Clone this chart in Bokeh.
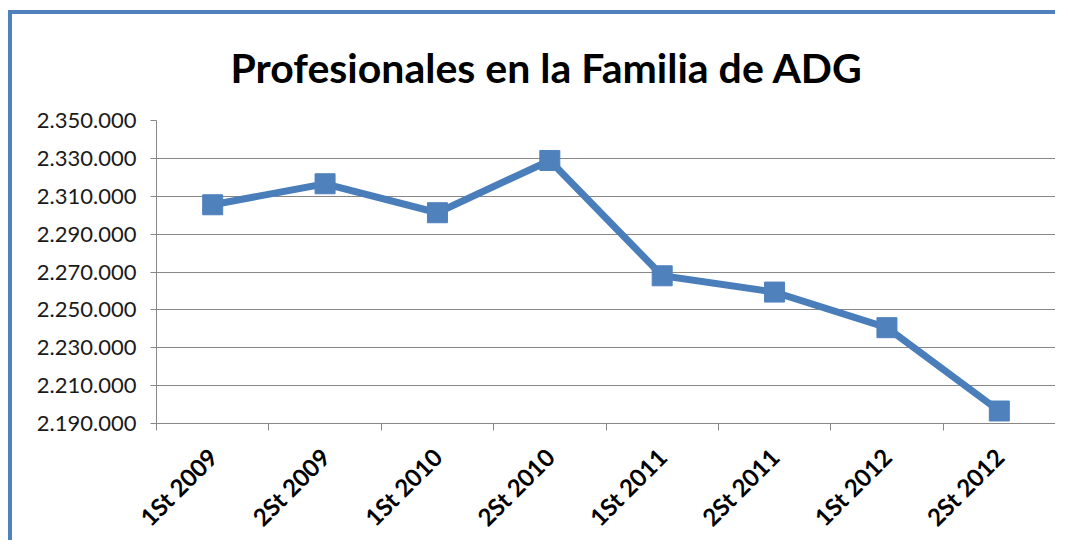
import math
from bokeh.plotting import figure
from bokeh.models import FixedTicker, Range1d, ColumnDataSource, CustomJSTickFormatter
from bokeh.embed import file_html
from bokeh.resources import INLINE

title_text = "Profesionales en la Familia de ADG"
categories = ["1St 2009", "2St 2009", "1St 2010", "2St 2010",
              "1St 2011", "2St 2011", "1St 2012", "2St 2012"]
values = [2305500, 2316600, 2301300, 2328900, 2268000, 2259400, 2240600, 2196600]
y_ticks = [2190000, 2210000, 2230000, 2250000, 2270000, 2290000, 2310000, 2330000, 2350000]
y_tick_labels = ["2.190.000", "2.210.000", "2.230.000", "2.250.000", "2.270.000",
                 "2.290.000", "2.310.000", "2.330.000", "2.350.000"]

BLUE = "#4F81BD"
GRID = "#878787"
FONT = "Lato"

x_pos = [i + 0.5 for i in range(len(categories))]
src = ColumnDataSource(dict(x=x_pos, y=values, cat=categories))

p = figure(width=1047, height=530, output_backend="svg", toolbar_location=None,
           x_range=Range1d(0, len(categories)), y_range=Range1d(y_ticks[0], y_ticks[-1]),
           min_border_left=144, min_border_right=4, min_border_top=106, min_border_bottom=121)
p.styles = {"border-left": "4px solid " + BLUE, "border-top": "4px solid " + BLUE,
            "margin-top": "10px", "margin-left": "8px"}
p.outline_line_color = None
p.background_fill_color = "white"
p.border_fill_color = "white"

p.title.text = title_text
p.title.text_font = FONT
p.title.text_font_style = "bold"
p.title.text_font_size = "41px"
p.title.text_color = "#000000"
p.title.align = "left"
p.title.offset = 74
p.title.vertical_align = "top"
p.title.standoff = 54

p.line("x", "y", source=src, line_color="#4A7EBB", line_width=7, line_join="miter")
p.scatter("x", "y", source=src, marker="square", size=20, fill_color=BLUE, line_color=BLUE)

# X axis
xa = p.xaxis[0]
xa.ticker = FixedTicker(ticks=x_pos, minor_ticks=list(range(len(categories) + 1)))
xa.formatter = CustomJSTickFormatter(args=dict(cats=categories),
                                     code="return cats[Math.floor(tick)];")
xa.major_label_orientation = math.pi / 4
xa.major_tick_out = 0
xa.major_tick_in = 0
xa.minor_tick_out = 7
xa.minor_tick_in = 0
xa.minor_tick_line_color = GRID
xa.axis_line_color = GRID
xa.major_label_text_font = FONT
xa.major_label_text_font_style = "bold"
xa.major_label_text_font_size = "24px"
xa.major_label_text_color = "#000000"
xa.major_label_standoff = 22

# Y axis
ya = p.yaxis[0]
ya.ticker = FixedTicker(ticks=y_ticks)
ya.major_label_overrides = {t: l for t, l in zip(y_ticks, y_tick_labels)}
ya.major_tick_out = 6
ya.major_tick_in = 0
ya.minor_tick_out = 0
ya.minor_tick_in = 0
ya.axis_line_color = GRID
ya.major_tick_line_color = GRID
ya.major_label_text_font = FONT
ya.major_label_text_font_size = "22px"
ya.major_label_text_color = "#1a1a1a"
ya.major_label_standoff = 14

p.xgrid.grid_line_color = None
p.ygrid.grid_line_color = GRID
p.ygrid.grid_line_width = 1

open("out.html", "w").write(file_html(p, INLINE))
